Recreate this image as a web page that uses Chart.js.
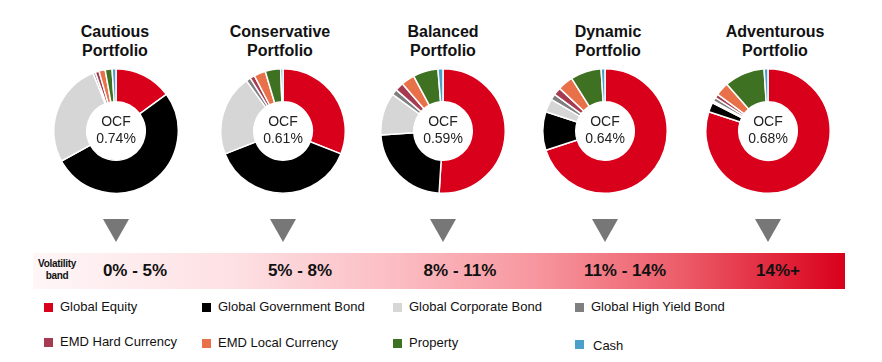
<!DOCTYPE html>
<html>
<head>
<meta charset="utf-8">
<script src="https://cdn.jsdelivr.net/npm/chart.js@4.4.0/dist/chart.umd.min.js"></script>
<style>
    body { margin: 0; background: #fff; font-family: "Liberation Sans", Arial, sans-serif; }
    #wrap { position: relative; width: 882px; height: 362px; overflow: hidden; }
    .title { position: absolute; width: 160px; text-align: center; font-weight: bold; font-size: 16px; line-height: 19px; color: #111; top: 22px; }
    .pie { position: absolute; width: 126px; height: 126px; }
    .ocf { position: absolute; width: 80px; text-align: center; font-size: 14px; line-height: 17px; color: #222; }
    .tri { position: absolute; top: 219px; width: 0; height: 0; border-left: 13.5px solid transparent; border-right: 13.5px solid transparent; border-top: 23px solid #777; }
    #band { position: absolute; left: 33px; top: 253px; width: 812px; height: 36px;
        background: linear-gradient(to right, #fff6f7 0%, #fde0e3 25%, #fbbcc2 45%, #f7969e 62%, #ec5c69 80%, #d9001b 100%); }
    .bl { position: absolute; top: 0; height: 36px; line-height: 36px; font-weight: bold; font-size: 17px; color: #111; text-align: center; width: 120px; }
    #vb { position: absolute; left: 0; top: 5px; width: 48px; text-align: center; font-size: 10px; line-height: 12px; font-weight: bold; color: #111; letter-spacing: -0.3px; }
    .lg { position: absolute; font-size: 13px; color: #111; white-space: nowrap; }
    .lg i { position: absolute; left: 0; width: 9px; height: 9px; }
</style>
</head>
<body>
<div id="wrap">
    <div id="band"><div id="vb">Volatility<br>band</div></div>
</div>
<script>
// 資産クラス
const assetClasses = ['Global Equity', 'Global Government Bond', 'Global Corporate Bond', 'Global High Yield Bond',
    'EMD Hard Currency', 'EMD Local Currency', 'Property', 'Cash'];
const assetColors = ['#d9001b', '#000000', '#d6d6d6', '#7f7f7f', '#a63a50', '#e8714a', '#3e7121', '#4aa0c8'];

// ポートフォリオ
const portfolios = ['Cautious', 'Conservative', 'Balanced', 'Dynamic', 'Adventurous'];
const ocfValues = ['0.74%', '0.61%', '0.59%', '0.64%', '0.68%'];
const volatilityBands = ['0% - 5%', '5% - 8%', '8% - 11%', '11% - 14%', '14%+'];

// 配分 (%)
const cautious = [15, 52, 27, 0.6, 1, 1.6, 1.8, 1];
const conservative = [31, 38, 21, 1.2, 1.2, 3, 4, 0.6];
const balanced = [51, 23, 11, 1.5, 2.2, 3.5, 6.5, 1.3];
const dynamic = [70, 10, 3.5, 1.5, 2, 4, 8, 1];
const adventurous = [80, 2.5, 0.5, 1, 1, 3.5, 10.5, 1];
const allocations = [cautious, conservative, balanced, dynamic, adventurous];

// 配置
const centersX = [116, 283, 443, 605, 768];
const centerY = 131;
const titleX = [115, 280, 443, 608, 775];
const bandX = [102, 267, 427, 592, 745];
const legendPos = [[44, 307], [202, 307], [393, 307], [575, 307], [44, 342], [202, 343], [393, 343], [575, 346]];

const wrap = document.getElementById('wrap');

portfolios.forEach((name, i) => {
    const t = document.createElement('div');
    t.className = 'title';
    t.style.left = (titleX[i] - 80) + 'px';
    t.innerHTML = name + '<br>Portfolio';
    wrap.appendChild(t);

    const box = document.createElement('div');
    box.className = 'pie';
    box.style.left = (centersX[i] - 63) + 'px';
    box.style.top = (centerY - 63) + 'px';
    box.innerHTML = '<canvas width="126" height="126"></canvas>';
    wrap.appendChild(box);

    new Chart(box.querySelector('canvas').getContext('2d'), {
        type: 'doughnut',
        data: {
            labels: assetClasses,
            datasets: [{
                data: allocations[i],
                backgroundColor: assetColors,
                borderColor: '#fff',
                borderWidth: 1.5
            }]
        },
        options: {
            responsive: false,
            animation: false,
            cutout: '47%',
            layout: { padding: 0 },
            plugins: { legend: { display: false }, tooltip: { enabled: false } }
        }
    });

    const o = document.createElement('div');
    o.className = 'ocf';
    o.style.left = (centersX[i] - 40) + 'px';
    o.style.top = (centerY - 18) + 'px';
    o.innerHTML = 'OCF<br>' + ocfValues[i];
    wrap.appendChild(o);

    const tri = document.createElement('div');
    tri.className = 'tri';
    tri.style.left = (centersX[i] - 13.5) + 'px';
    wrap.appendChild(tri);
});

const band = document.getElementById('band');
volatilityBands.forEach((b, i) => {
    const d = document.createElement('div');
    d.className = 'bl';
    d.style.left = (bandX[i] - 33 - 60 + 33) + 'px';
    d.textContent = b;
    band.appendChild(d);
});

assetClasses.forEach((a, i) => {
    const d = document.createElement('div');
    d.className = 'lg';
    d.style.left = legendPos[i][0] + 'px';
    d.style.top = (legendPos[i][1] - 8) + 'px';
    d.style.paddingLeft = (i === 7 ? 18 : 16) + 'px';
    d.style.lineHeight = '16px';
    d.innerHTML = '<i style="background:' + assetColors[i] + ';top:' + (i === 7 ? 2 : 4) + 'px"></i>' + a;
    wrap.appendChild(d);
});
</script>
</body>
</html>
